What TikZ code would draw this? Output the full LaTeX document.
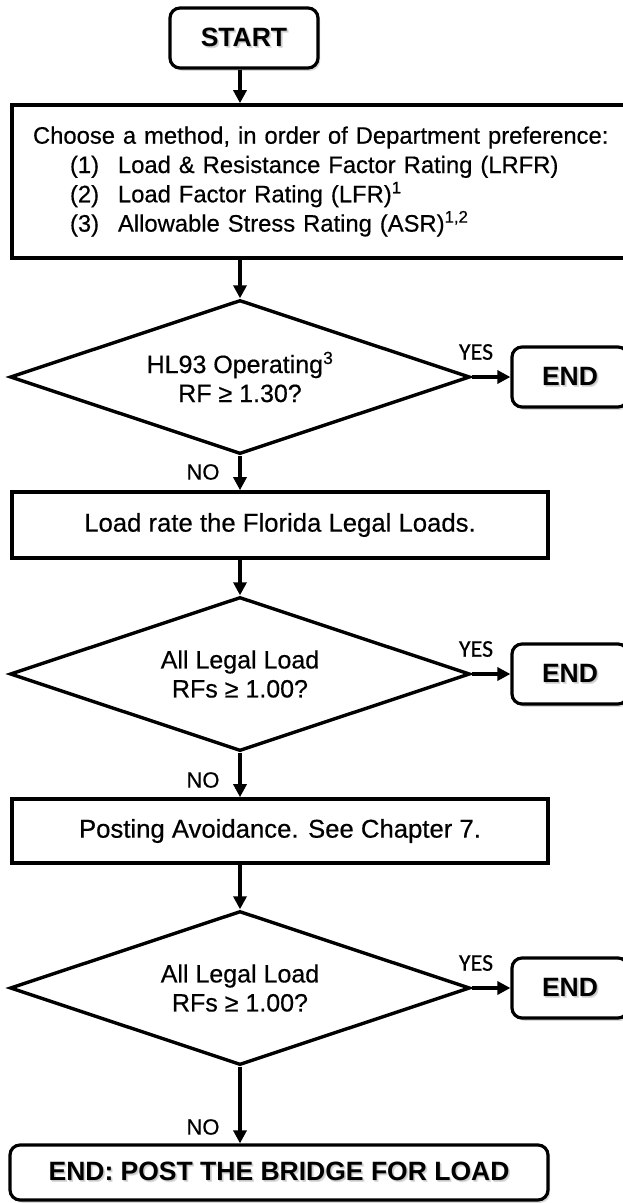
\documentclass[tikz,border=0pt]{standalone}
\usepackage{fontspec}
\setmainfont{Liberation Sans}[UprightFeatures={FakeBold=0.5}]
\newfontfamily\carlitofont{Carlito}[FakeBold=0.4]
\usetikzlibrary{shapes.geometric,arrows.meta,shadows}
\newcommand\shd[1]{\leavevmode
  \rlap{\kern1.8pt\raisebox{-2.2pt}{\textcolor{black!14}{#1}}}%
  \rlap{\kern1.0pt\raisebox{-1.2pt}{\textcolor{black!22}{#1}}}#1}
\tikzset{
  procbox/.style={draw, rectangle, line width=3.6pt, inner sep=0pt, font=\fontsize{25.7pt}{29pt}\selectfont},
  termbox/.style={draw, rectangle, line width=3.2pt, rounded corners=10pt, fill=white,
    drop shadow={opacity=0.3, shadow xshift=2.2pt, shadow yshift=-2.8pt},
    inner sep=0pt, font=\fontsize{26.5pt}{30pt}\selectfont\bfseries},
  decision/.style={diamond, draw, line width=3.4pt, aspect=3, inner sep=0pt,
    minimum width=460pt, minimum height=154pt, align=center,
    font=\fontsize{25pt}{29pt}\selectfont},
  flow/.style={line width=3.2pt, -{Triangle[length=13pt,width=13pt]}},
  yeslbl/.style={inner sep=0pt, font=\carlitofont\fontsize{24pt}{24pt}\selectfont},
  nolbl/.style={inner sep=0pt, font=\fontsize{22pt}{22pt}\selectfont}
}
\begin{document}
\begin{tikzpicture}[x=1pt,y=-1pt]
\useasboundingbox (0,0) rectangle (622,1203);

\node[termbox, minimum width=148pt, minimum height=60pt] (start) at (244,38) {\shd{START}};

\node[procbox, minimum width=628pt, minimum height=153pt, text width=586pt, inner xsep=21pt,
      align=left, font=\fontsize{23.8pt}{29.3pt}\selectfont] (m1) at (326,181.5)
  {Choose a method, in order of Department preference:\\
   \hspace*{37pt}\makebox[48pt][l]{(1)}Load \& Resistance Factor Rating (LRFR)\\
   \hspace*{37pt}\makebox[48pt][l]{(2)}Load Factor Rating (LFR)\textsuperscript{1}\\
   \hspace*{37pt}\makebox[48pt][l]{(3)}Allowable Stress Rating (ASR)\textsuperscript{1,2}};

\node[decision] (d1) at (240,377) {HL93 Operating\textsuperscript{3}\\RF ≥ 1.30?};
\node[yeslbl] (y1) at (476,352) {YES};
\node[termbox, minimum width=116pt, minimum height=60pt] (e1) at (570,377) {\shd{END}};
\node[nolbl] (n1) at (203,472) {NO};

\node[procbox, minimum width=536pt, minimum height=66pt] (r2) at (280,525) {Load rate the Florida Legal Loads.};

\node[decision] (d2) at (240,674) {All Legal Load\\RFs ≥ 1.00?};
\node[yeslbl] (y2) at (476,649) {YES};
\node[termbox, minimum width=116pt, minimum height=60pt] (e2) at (570,674) {\shd{END}};
\node[nolbl] (n2) at (203,780) {NO};

\node[procbox, minimum width=536pt, minimum height=64pt] (r3) at (280,831) {Posting Avoidance. See Chapter 7.};

\node[decision] (d3) at (240,988) {All Legal Load\\RFs ≥ 1.00?};
\node[yeslbl] (y3) at (476,963) {YES};
\node[termbox, minimum width=116pt, minimum height=60pt] (e3) at (570,988) {\shd{END}};
\node[nolbl] (n3) at (203,1127) {NO};

\node[termbox, minimum width=538pt, minimum height=55pt] (fin) at (279,1172.5) {\shd{END: POST THE BRIDGE FOR LOAD}};

\draw[flow] (start.south -| d1.north) -- (d1.north |- m1.north);
\draw[flow] (d1.north |- m1.south) -- (d1.north);
\draw[flow] (d1.east) -- (e1.west);
\draw[flow] (d1.south) -- (d1.south |- r2.north);
\draw[flow] (d2.north |- r2.south) -- (d2.north);
\draw[flow] (d2.east) -- (e2.west);
\draw[flow] (d2.south) -- (d2.south |- r3.north);
\draw[flow] (d3.north |- r3.south) -- (d3.north);
\draw[flow] (d3.east) -- (e3.west);
\draw[flow] (d3.south) -- (d3.south |- fin.north);
\end{tikzpicture}
\end{document}
